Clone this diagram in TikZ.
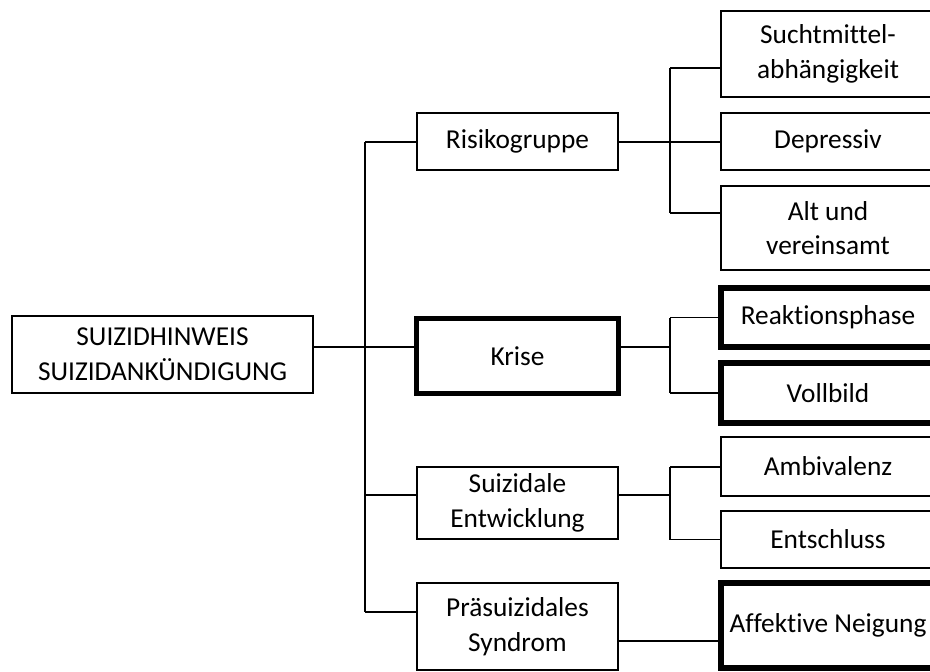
\documentclass[tikz,border=0pt]{standalone}
\usepackage{fontspec}
\setmainfont{Carlito}[Ligatures=NoCommon]
\usepackage{tikz}

\tikzset{
  box/.style={shape=rectangle,draw,inner sep=0pt,align=center,
    font=\fontsize{20.5}{26}\selectfont},
  thinbox/.style={box,line width=0.9pt},
  midbox/.style={box,line width=1.7pt},
  boldbox/.style={box,line width=3.8pt},
  thinline/.style={line width=0.8pt},
  midline/.style={line width=1.5pt}
}

\begin{document}
\begin{tikzpicture}[x=0.75pt,y=-0.75pt]
\useasboundingbox (0,0) rectangle (930,671);
\clip (0,0) rectangle (930,671);
% left and middle column
\path node (hinweis) at (162.5,354.5) [thinbox,minimum width=225.75pt,minimum height=57.75pt] {SUIZIDHINWEIS\\SUIZIDANKÜNDIGUNG}
      node (risiko) at (517.5,141.5) [midbox,minimum width=150.75pt,minimum height=42.75pt] {Risikogruppe}
      node (krise) at (517.5,356) [boldbox,minimum width=151.5pt,minimum height=56.25pt] {Krise}
      node (entw) at (517.5,503) [midbox,minimum width=150.75pt,minimum height=54pt] {Suizidale\\Entwicklung}
      node (praes) at (517.5,626.5) [thinbox,line width=1.2pt,minimum width=150.75pt,minimum height=65.25pt] {Präsuizidales\\Syndrom};
% right column
\path node (sucht) at (828,54) [midbox,minimum width=160.5pt,minimum height=64.5pt] {Suchtmittel-\\abhängigkeit}
      node (depr) at (828,141.5) [midbox,minimum width=160.5pt,minimum height=42.75pt] {Depressiv}
      node (alt) at (828,228) [midbox,minimum width=160.5pt,minimum height=63pt] {Alt und\\vereinsamt}
      node (reakt) at (828,317.5) [boldbox,minimum width=160.5pt,minimum height=44.25pt] {Reaktionsphase}
      node (voll) at (828,393) [boldbox,minimum width=160.5pt,minimum height=45pt] {Vollbild}
      node (ambi) at (828,466.5) [midbox,minimum width=160.5pt,minimum height=44.25pt] {Ambivalenz}
      node (entsch) at (828,539.5) [midbox,minimum width=160.5pt,minimum height=42.75pt] {Entschluss}
      node (affekt) at (828,625.5) [boldbox,minimum width=160.5pt,minimum height=63.75pt] {Affektive Neigung};
% junctions
\coordinate (jr) at (365,142);
\coordinate (jk) at (365,347);
\coordinate (je) at (365,495);
\coordinate (jp) at (365,612);
\coordinate (br) at (670,142);
\coordinate (bk) at (670,347);
\coordinate (be) at (670,495);
\coordinate (bp) at (670,641);
% trunk
\draw [midline] (jr) -- (jp);
\draw [thinline] (hinweis.east |- jk) -- (krise.west |- jk);
\draw [midline] (jr) -- (risiko.west |- jr);
\draw [midline] (je) -- (entw.west |- je);
\draw [thinline] (jp) -- (praes.west |- jp);
% Risikogruppe
\draw [midline] (risiko.east |- br) -- (depr.west |- br);
\draw [thinline] (br |- 0,68) -- (br |- 0,213);
\draw [midline] (br |- 0,68) -- (sucht.west |- 0,68);
\draw [thinline] (br |- 0,213) -- (alt.west |- 0,213);
% Krise
\draw [thinline] (krise.east |- bk) -- (bk);
\draw [thinline] (bk |- reakt.west) -- (bk |- voll.west);
\draw [thinline] (bk |- reakt.west) -- (reakt.west);
\draw [thinline] (bk |- voll.west) -- (voll.west);
% Suizidale Entwicklung
\draw [midline] (entw.east |- be) -- (be);
\draw [thinline] (be |- ambi.west) -- (be |- entsch.west);
\draw [midline] (be |- ambi.west) -- (ambi.west);
\draw [thinline] (be |- entsch.west) -- (entsch.west);
% Praesuizidales Syndrom
\draw [thinline] (praes.east |- bp) -- (affekt.west |- bp);
\end{tikzpicture}
\end{document}
